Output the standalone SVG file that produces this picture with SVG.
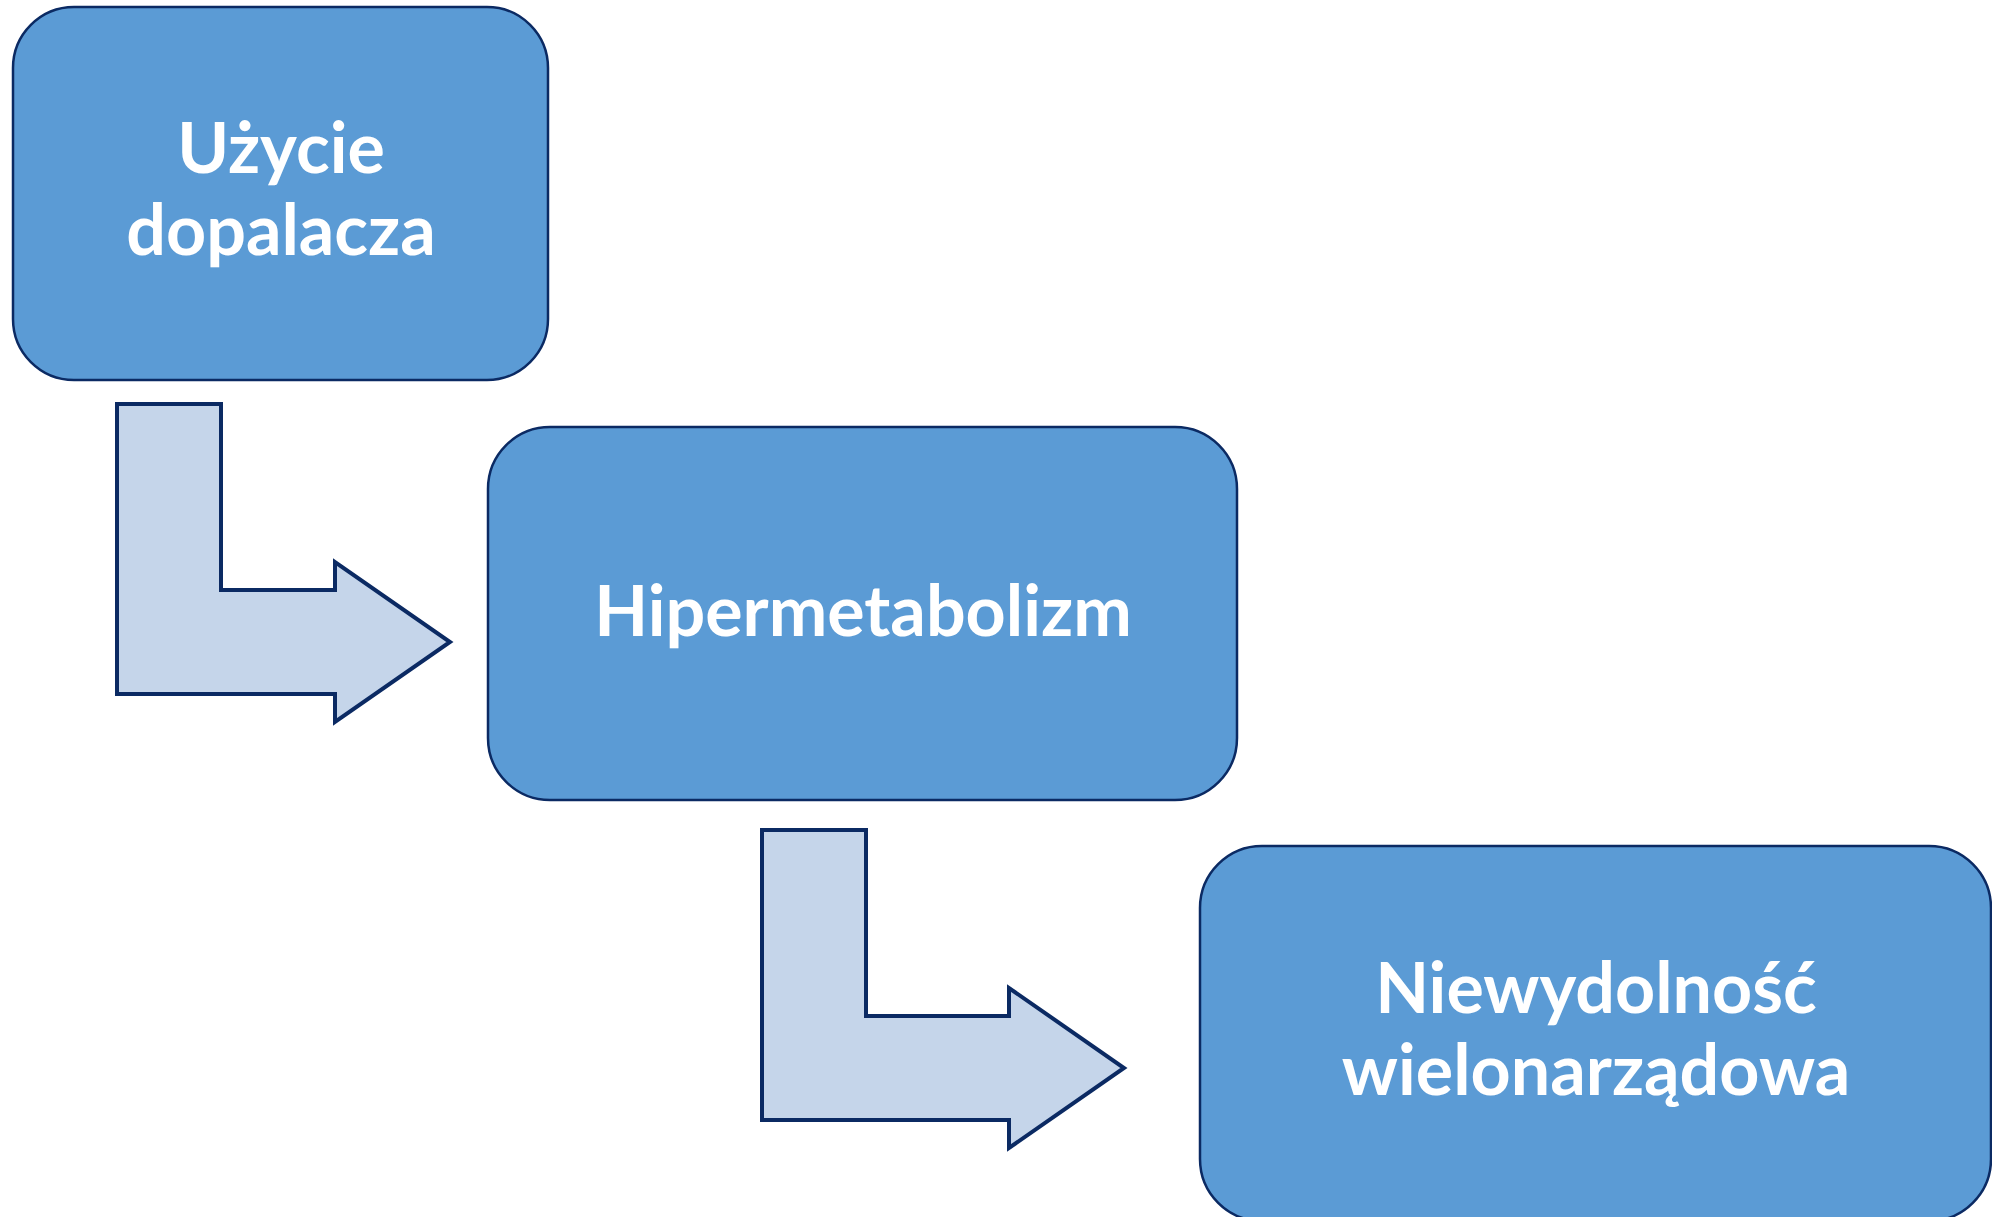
<svg xmlns="http://www.w3.org/2000/svg" width="1992" height="1217" viewBox="0 0 1992 1217">
<style>
.box{fill:#5B9BD5;stroke:#0B2A63;stroke-width:2.5}
.arr{fill:#C5D5EA;stroke:#0B2A63;stroke-width:4;stroke-linejoin:miter}
.t{font-family:Lato,"Open Sans","Liberation Sans",sans-serif;font-weight:bold;font-size:70px;fill:#FFFFFF;text-anchor:middle}
</style>
<rect width="1992" height="1217" fill="#FFFFFF"/>
<g id="connectors">
<path class="arr" d="M117,404 L221,404 L221,590 L335,590 L335,562 L450,642 L335,722 L335,694 L117,694 Z"/>
<path class="arr" d="M762,830 L866,830 L866,1016 L1009,1016 L1009,988 L1124,1068 L1009,1148 L1009,1120 L762,1120 Z"/>
</g>
<g id="node1">
<rect class="box" x="13" y="7" width="535" height="373" rx="61" ry="61"/>
<text class="t" x="281" y="173">Użycie</text>
<text class="t" x="281" y="255">dopalacza</text>
</g>
<g id="node2">
<rect class="box" x="488" y="427" width="749" height="373" rx="62" ry="62"/>
<text class="t" x="863" y="636">Hipermetabolizm</text>
</g>
<g id="node3">
<rect class="box" x="1200" y="846" width="791" height="375" rx="62" ry="62"/>
<text class="t" x="1596" y="1013">Niewydolność</text>
<text class="t" x="1596" y="1095">wielonarządowa</text>
</g>
</svg>
